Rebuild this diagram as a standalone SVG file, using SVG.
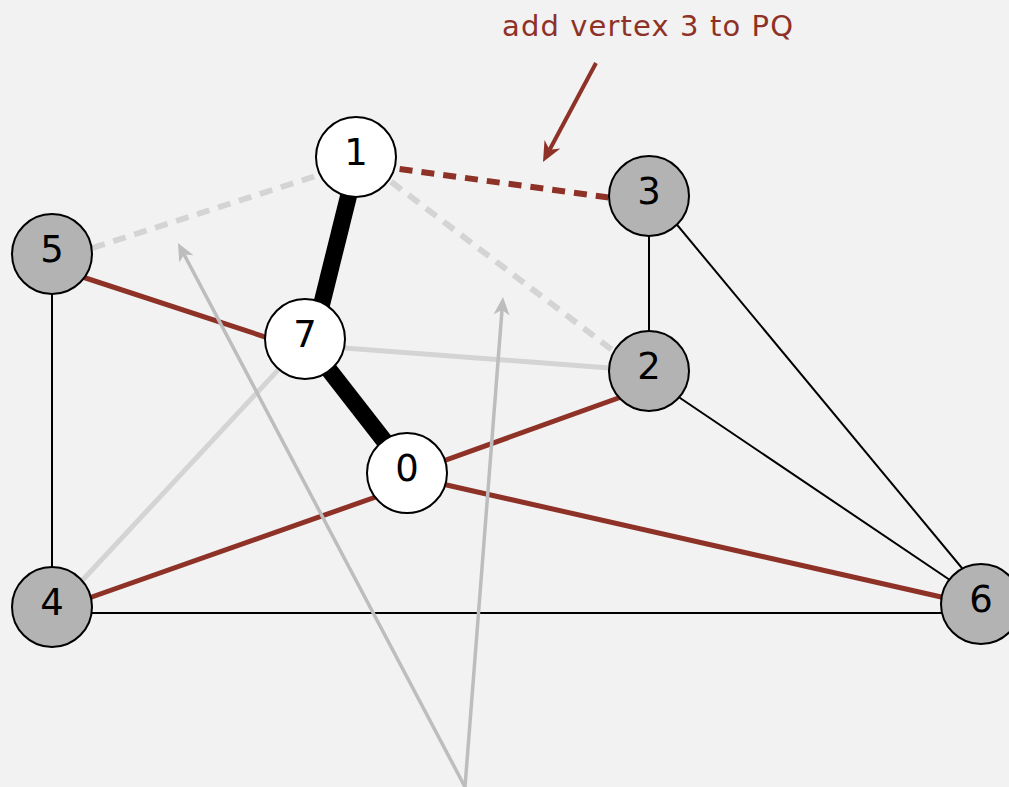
<svg xmlns="http://www.w3.org/2000/svg" width="1009" height="787" viewBox="0 0 1009 787">
<style>
.thin{stroke:#000;stroke-width:2;fill:none}
.thick{stroke:#000;stroke-width:17;fill:none}
.red{stroke:#8e3126;stroke-width:5;fill:none}
.reddash{stroke:#8e3126;stroke-width:6;stroke-dasharray:13 9;fill:none}
.grey{stroke:#d4d4d4;stroke-width:5;fill:none}
.greydash{stroke:#d4d4d4;stroke-width:6;stroke-dasharray:13 9;fill:none}
.ptr{stroke:#bdbdbd;stroke-width:3.5;fill:none}
.ptrhead{fill:#bdbdbd}
.node circle{stroke:#000;stroke-width:2}
.w circle{fill:#fff}
.g circle{fill:#b3b3b3}
.node text{font-family:"DejaVu Sans","Liberation Sans",sans-serif;font-size:37px;text-anchor:middle;fill:#000}
.lbl{font-family:"DejaVu Sans","Liberation Sans",sans-serif;font-size:29px;fill:#8e3126}
</style>
<rect width="1009" height="787" fill="#f2f2f2"/>
<g id="connectors">
<line class="thin" x1="52" y1="254" x2="52" y2="607"/>
<line class="thin" x1="52" y1="613" x2="981" y2="613"/>
<line class="thin" x1="649" y1="196" x2="649" y2="371"/>
<line class="thin" x1="649" y1="191" x2="981" y2="591"/>
<line class="thin" x1="649" y1="377" x2="981" y2="601"/>
<line class="grey" x1="305" y1="345" x2="649" y2="371"/>
<line class="grey" x1="305" y1="341" x2="52" y2="613"/>
<line class="greydash" x1="356" y1="163" x2="52" y2="261"/>
<line class="greydash" x1="356" y1="155" x2="649" y2="378"/>
<line class="reddash" x1="356" y1="163" x2="649" y2="203"/>
<line class="red" x1="52" y1="267" x2="305" y2="350"/>
<line class="red" x1="52" y1="611" x2="407" y2="486"/>
<line class="red" x1="407" y1="474" x2="649" y2="387"/>
<line class="red" x1="407" y1="476" x2="981" y2="606"/>
<line class="thick" x1="358" y1="158" x2="313" y2="339"/>
<line class="thick" x1="305" y1="339" x2="407" y2="470"/>
</g>
<g id="n1" class="node w"><circle cx="356" cy="157" r="40"/><text x="356" y="165">1</text></g>
<g id="n3" class="node g"><circle cx="649" cy="196" r="40"/><text x="649" y="204">3</text></g>
<g id="n5" class="node g"><circle cx="52" cy="254" r="40"/><text x="52" y="262">5</text></g>
<g id="n7" class="node w"><circle cx="305" cy="339" r="40"/><text x="305" y="347">7</text></g>
<g id="n2" class="node g"><circle cx="649" cy="371" r="40"/><text x="649" y="379">2</text></g>
<g id="n0" class="node w"><circle cx="407" cy="473" r="40"/><text x="407" y="481">0</text></g>
<g id="n4" class="node g"><circle cx="52" cy="607" r="40"/><text x="52" y="615">4</text></g>
<g id="n6" class="node g"><circle cx="981" cy="604" r="40"/><text x="981" y="612">6</text></g>
<g id="annotations">
<line class="ptr" x1="465" y1="787" x2="184.1" y2="254.5"/>
<polygon class="ptrhead" points="178,243 193.5,255.2 184.1,254.5 179.3,262.6"/>
<line class="ptr" x1="465" y1="787" x2="502" y2="310"/>
<polygon class="ptrhead" points="503,297 509.6,315.6 502,310 493.6,314.3"/>
<line stroke="#8e3126" stroke-width="4" x1="596" y1="63" x2="549.6" y2="149.7"/>
<polygon fill="#8e3126" points="543,162 544.5,140.1 549.6,149.7 560.4,148.6"/>
<text class="lbl" x="502" y="36" textLength="291" lengthAdjust="spacing">add vertex 3 to PQ</text>
</g>
</svg>
